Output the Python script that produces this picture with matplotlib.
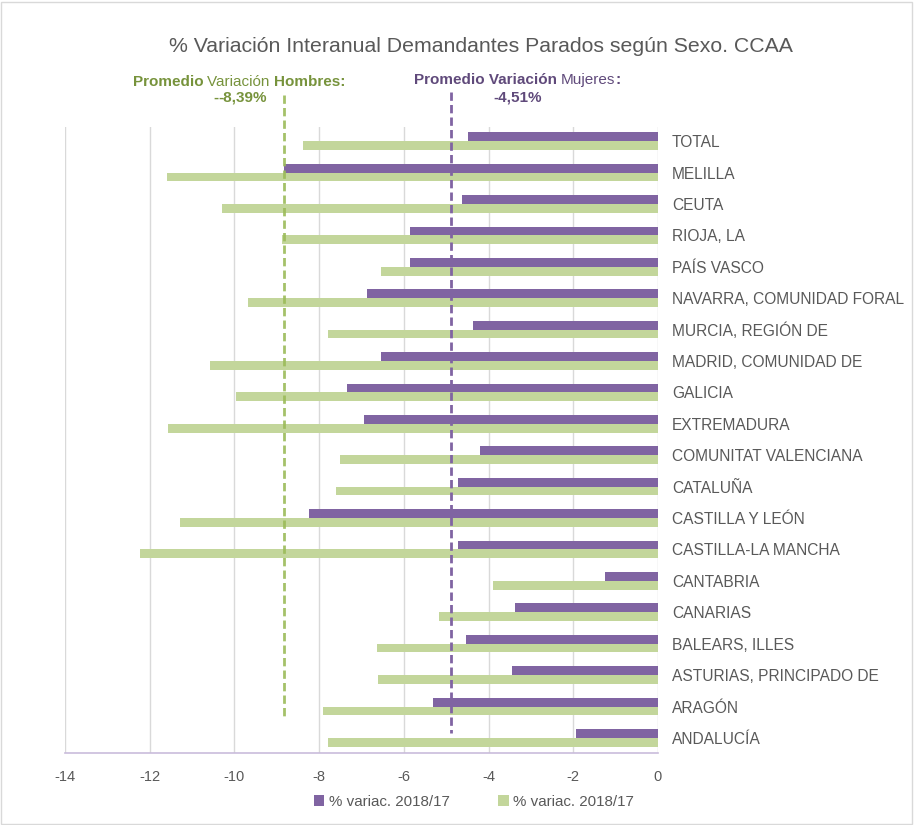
import matplotlib
matplotlib.use("Agg")
import matplotlib.pyplot as plt
from matplotlib.patches import Rectangle

plt.rcParams['font.family'] = ['Liberation Sans', 'DejaVu Sans']

categories = ["TOTAL", "MELILLA", "CEUTA", "RIOJA, LA", "PAÍS VASCO",
              "NAVARRA, COMUNIDAD FORAL", "MURCIA, REGIÓN DE",
              "MADRID, COMUNIDAD DE", "GALICIA", "EXTREMADURA",
              "COMUNITAT VALENCIANA", "CATALUÑA", "CASTILLA Y LEÓN",
              "CASTILLA-LA MANCHA", "CANTABRIA", "CANARIAS",
              "BALEARS, ILLES", "ASTURIAS, PRINCIPADO DE", "ARAGÓN",
              "ANDALUCÍA"]
mujeres = [-4.49, -8.84, -4.63, -5.86, -5.86, -6.88, -4.37, -6.55, -7.35,
           -6.95, -4.21, -4.71, -8.25, -4.73, -1.25, -3.38, -4.54, -3.45,
           -5.32, -1.94]
hombres = [-8.39, -11.59, -10.29, -8.87, -6.55, -9.67, -7.78, -10.57, -9.96,
           -11.56, -7.50, -7.61, -11.28, -12.23, -3.90, -5.18, -6.64, -6.62,
           -7.92, -7.80]
series_names = ["% variac. 2018/17", "% variac. 2018/17"]
prom_hombres = -8.83
prom_mujeres = -4.89
xticks = [-14, -12, -10, -8, -6, -4, -2, 0]

PURPLE = "#8064A2"
GREEN = "#C3D69B"
TXT = "#595959"

fig = plt.figure(figsize=(9.14, 8.25), dpi=100)
ax = fig.add_axes([65/914, 1-753/825, (658-65)/914, (753-127)/825])

n = len(categories)
ys = list(range(n))
h = 0.28
ax.barh([y - h/2 for y in ys], mujeres, height=h, color=PURPLE,
        label=series_names[0], zorder=3)
ax.barh([y + h/2 for y in ys], hombres, height=h, color=GREEN,
        label=series_names[1], zorder=3)

ax.set_xlim(-14, 0)
ax.set_ylim(n - 1 + 0.48, -0.45)
ax.set_xticks(xticks)
ax.set_xticklabels([str(t) for t in xticks], color=TXT, fontsize=10.5)
ax.tick_params(axis='x', length=0, pad=12.5)
ax.xaxis.grid(True, color="#D9D9D9", lw=1, zorder=0)
ax.set_axisbelow(True)
ax.yaxis.tick_right()
ax.set_yticks(ys)
ax.set_yticklabels(categories, color=TXT, fontsize=11.2)
ax.tick_params(axis='y', length=0, pad=10)
for s in ["top", "left", "right"]:
    ax.spines[s].set_visible(False)
ax.spines["bottom"].set_color("#C9BCDB")
ax.spines["bottom"].set_linewidth(1.2)

# average lines
def py2d(py):
    return (py - 141) / 31.42

ax.plot([prom_hombres, prom_hombres], [py2d(95), py2d(720)], color="#9BBB59",
        lw=2, ls=(0, (3, 1.5)), clip_on=False, zorder=5, alpha=0.9)
ax.plot([prom_mujeres, prom_mujeres], [py2d(92), py2d(733)], color=PURPLE,
        lw=2, ls=(0, (3, 1.5)), clip_on=False, zorder=5)

fig.text(481/914, 1-47/825,
         "% Variación Interanual Demandantes Parados según Sexo. CCAA",
         ha="center", va="center", fontsize=15.3, color=TXT)

# mixed-weight annotations
renderer = fig.canvas.get_renderer()

def mixed(parts, cx, cy, color, size=11):
    texts = []
    for s, w in parts:
        t = fig.text(0, 1-cy/825, s, fontsize=size, fontweight=w,
                     color=color, va="center", ha="left")
        texts.append(t)
    widths = [t.get_window_extent(renderer).width for t in texts]
    total = sum(widths)
    x = cx - total/2
    for t, wd in zip(texts, widths):
        t.set_x(x/914)
        x += wd

GTXT = "#77933C"
PTXT = "#604A7B"
mixed([("Promedio ", "bold"), ("Variación ", "normal"), ("Hombres:", "bold")],
      239, 82, GTXT)
mixed([("-", "bold"), ("-8,39%", "bold")], 240, 98, GTXT)
mixed([("Promedio Variación ", "bold"), ("Mujeres", "normal"), (":", "bold")],
      517, 80, PTXT)
mixed([("-4,51%", "bold")], 518, 97, PTXT)

leg = fig.legend(loc="center", bbox_to_anchor=(474/914, 1-802/825), ncol=2,
                 frameon=False, fontsize=10.9, handlelength=0.7,
                 handleheight=0.7, handletextpad=0.3, columnspacing=3.2)
for t in leg.get_texts():
    t.set_color(TXT)

fig.patches.append(Rectangle((0.001, 0.001), 0.997, 0.997, transform=fig.transFigure,
                             fill=False, edgecolor="#D9D9D9", lw=1))

fig.savefig("out.png", dpi=100)
